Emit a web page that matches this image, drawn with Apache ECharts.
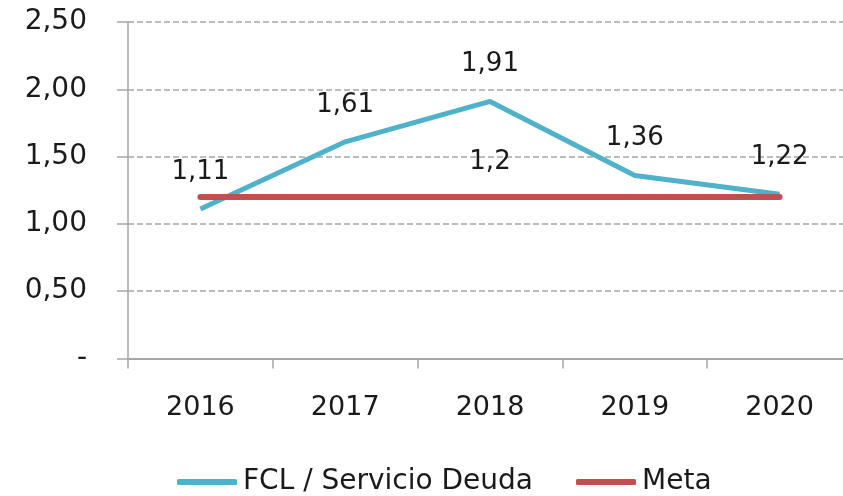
<!DOCTYPE html>
<html>
<head>
<meta charset="utf-8">
<script src="https://cdn.jsdelivr.net/npm/echarts@6/dist/echarts.min.js"></script>
<style>
  html, body { margin: 0; padding: 0; background: #fff; }
  #chart { width: 843px; height: 496px; }
</style>
</head>
<body>
<div id="chart"></div>
<script>
var years = ['2016', '2017', '2018', '2019', '2020'];
var fclValues = [1.11, 1.61, 1.91, 1.36, 1.22];
var metaValues = [1.2, 1.2, 1.2, 1.2, 1.2];
var metaLabelIdx = [2]; // only the middle point carries a label
var seriesNames = ['FCL / Servicio Deuda', 'Meta'];

var fontFam = 'DejaVu Sans';

// numbers with comma as decimal separator
function comma(v) {
    return String(v).replace('.', ',');
}

var metaData = metaValues.map(function (v, i) {
    if (metaLabelIdx.indexOf(i) >= 0) {
        return { value: v, label: { show: true } };
    }
    return v;
});

var chart = echarts.init(document.getElementById('chart'));

var option = {
    backgroundColor: '#fff',
    animation: false,
    grid: {
        left: 128,
        width: 724,
        top: 22,
        bottom: 137.5,
        outerBoundsMode: 'none'
    },
    legend: {
        top: 463,
        left: 172,
        itemWidth: 60,
        itemHeight: 6,
        itemGap: 43,
        textStyle: { fontFamily: fontFam, fontSize: 28, color: '#1a1a1a', padding: [0, 0, 0, 1] },
        data: [
            { name: seriesNames[0], icon: 'roundRect' },
            { name: seriesNames[1], icon: 'roundRect' }
        ]
    },
    xAxis: {
        type: 'category',
        data: years,
        boundaryGap: true,
        axisLine: { lineStyle: { color: '#a6a6a6', width: 2 } },
        axisTick: { show: true, length: 10, lineStyle: { color: '#a6a6a6', width: 1.5 } },
        axisLabel: { fontFamily: fontFam, fontSize: 27, color: '#1a1a1a', margin: 36 },
        splitLine: { show: false }
    },
    yAxis: {
        type: 'value',
        min: 0,
        max: 2.5,
        interval: 0.5,
        axisLine: { show: true, lineStyle: { color: '#a6a6a6', width: 1.5 } },
        axisTick: { show: true, length: 11, lineStyle: { color: '#a6a6a6', width: 1.5 } },
        axisLabel: {
            fontFamily: fontFam,
            fontSize: 28,
            color: '#1a1a1a',
            margin: 41,
            formatter: function (v) {
                return v === 0 ? '-' : v.toFixed(2).replace('.', ',');
            }
        },
        splitLine: { lineStyle: { color: '#a6a6a6', width: 1.5, type: [6, 3] } }
    },
    series: [
        {
            name: seriesNames[0],
            type: 'line',
            data: fclValues,
            symbol: 'circle',
            symbolSize: 0,
            color: '#4fb1ca',
            lineStyle: { color: '#4fb1ca', width: 5 },
            label: {
                show: true,
                position: 'top',
                distance: 24,
                fontFamily: fontFam,
                fontSize: 26,
                color: '#1a1a1a',
                formatter: function (p) { return comma(p.value); }
            }
        },
        {
            name: seriesNames[1],
            type: 'line',
            data: metaData,
            symbol: 'circle',
            symbolSize: 0,
            color: '#c0504d',
            lineStyle: { color: '#c0504d', width: 6, cap: 'round' },
            label: {
                show: false,
                position: 'top',
                distance: 22,
                fontFamily: fontFam,
                fontSize: 26,
                color: '#1a1a1a',
                formatter: function (p) { return comma(p.value); }
            }
        }
    ]
};

chart.setOption(option);
</script>
</body>
</html>
